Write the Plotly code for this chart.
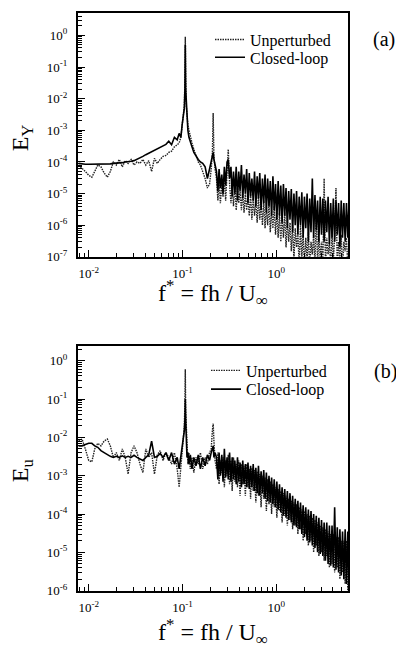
import plotly.graph_objects as go

# reduced frequency f* = fh / U_inf (shared by both spectra)
freq_lo = [
    0.0078, 0.0085, 0.0092, 0.0100, 0.0108, 0.0116, 0.0125, 0.0135, 0.0146, 0.0158,
    0.0170, 0.0183, 0.0197, 0.0212, 0.0228, 0.0245, 0.0263, 0.0283, 0.0304, 0.0327,
    0.0352, 0.0378, 0.0406, 0.0436, 0.0468, 0.0502, 0.0539, 0.0578, 0.0620, 0.0665,
    0.0713, 0.0764, 0.0819, 0.0877, 0.0920, 0.0960, 0.0990, 0.1020, 0.1045, 0.1060,
    0.1070, 0.1080, 0.1095, 0.1115, 0.1140, 0.1170, 0.1210, 0.1260, 0.1320, 0.1390,
    0.1470, 0.1550, 0.1640, 0.1740, 0.1840, 0.1940, 0.2020, 0.2080, 0.2120, 0.2160,
    0.2220,
]
freq_hi = [
    0.230, 0.238, 0.245, 0.253, 0.262, 0.270, 0.279, 0.288, 0.298, 0.307,
    0.317, 0.328, 0.338, 0.349, 0.361, 0.373, 0.385, 0.397, 0.410, 0.424,
    0.438, 0.452, 0.467, 0.482, 0.498, 0.514, 0.531, 0.548, 0.566, 0.585,
    0.604, 0.624, 0.644, 0.665, 0.687, 0.710, 0.733, 0.757, 0.782, 0.807,
    0.834, 0.861, 0.889, 0.918, 0.948, 0.979, 1.011, 1.044, 1.079, 1.114,
    1.150, 1.188, 1.227, 1.267, 1.309, 1.352, 1.396, 1.442, 1.489, 1.538,
    1.588, 1.640, 1.694, 1.749, 1.807, 1.866, 1.927, 1.990, 2.055, 2.123,
    2.192, 2.264, 2.338, 2.415, 2.494, 2.576, 2.660, 2.747, 2.837, 2.930,
    3.026, 3.125, 3.227, 3.333, 3.442, 3.555, 3.671, 3.791, 3.916, 4.044,
    4.176, 4.313, 4.454, 4.600, 4.751, 4.906, 5.067, 5.233, 5.404, 5.581,
    5.764, 5.950,
]

# (a) E_Y spectra
ey_unp_lo = [
    8e-5, 6.5e-5, 5e-5, 3.8e-5, 3.3e-5, 5e-5, 8e-5, 7e-5, 4.5e-5, 3.3e-5,
    5e-5, 1e-4, 8e-5, 1.2e-4, 7e-5, 1.1e-4, 9e-5, 1.2e-4, 8e-5, 1e-4,
    9e-5, 1.2e-4, 8e-5, 1.1e-4, 5e-5, 1.3e-4, 9e-5, 1.2e-4, 1.5e-4, 1.6e-4,
    2e-4, 2.2e-4, 3e-4, 3.5e-4, 4e-4, 6e-4, 1.2e-3, 2.5e-3, 6e-3, 4e-2,
    0.9, 5e-2, 6e-3, 3e-3, 1.5e-3, 1e-3, 6e-4, 4e-4, 2.5e-4, 1.5e-4,
    1e-4, 8e-5, 5e-5, 3e-5, 1.5e-5, 2e-5, 6e-5, 2e-4, 3.5e-3, 1.5e-4,
    6e-5,
]
ey_unp_hi = [
    3e-5, 6e-6, 2.5e-5, 5e-6, 2e-5, 8e-6, 3e-5, 6e-6, 5e-5, 2.5e-4,
    2e-5, 5e-6, 1.8e-5, 4e-6, 2e-5, 3e-6, 1.5e-5, 5e-6, 1.2e-5, 3e-6,
    1.2e-5, 2.5e-6, 1e-5, 3e-6, 8e-6, 2e-6, 1e-5, 1.5e-6, 7e-6, 2e-6,
    6e-6, 1.2e-6, 8e-6, 1.5e-6, 5e-6, 1e-6, 6e-6, 8e-7, 4e-6, 1e-6,
    5e-6, 6e-7, 3e-6, 8e-7, 4e-6, 5e-7, 3e-6, 4e-7, 2.5e-6, 3e-7,
    2e-6, 4e-7, 2.5e-6, 2e-7, 1.5e-6, 3e-7, 1.2e-6, 1.5e-7, 1e-6, 8e-8,
    8e-7, 2e-7, 6e-7, 5e-8, 1e-6, 1e-7, 5e-7, 5e-8, 4e-7, 8e-8,
    6e-7, 4e-8, 3e-7, 1.2e-7, 5e-7, 5e-8, 3e-6, 6e-8, 4e-7, 1e-7,
    3e-7, 4e-8, 3e-5, 5e-8, 4e-7, 1.2e-7, 3e-7, 5e-8, 6e-7, 8e-8,
    4e-7, 1.5e-5, 5e-8, 3e-7, 1e-7, 5e-7, 4e-8, 3e-7, 1.5e-7, 4e-7,
    5e-8, 3e-7,
]
ey_cl_lo = [
    9e-5, 8.5e-5, 8.5e-5, 8.5e-5, 8.5e-5, 8.5e-5, 8.5e-5, 8.5e-5, 8.5e-5, 8.5e-5,
    8.7e-5, 9e-5, 9e-5, 9.2e-5, 9.5e-5, 1e-4, 1e-4, 1.05e-4, 1.1e-4, 1.2e-4,
    1.3e-4, 1.5e-4, 1.7e-4, 1.9e-4, 2.1e-4, 2.3e-4, 2.6e-4, 3e-4, 3.3e-4, 3.6e-4,
    4.5e-4, 3.5e-4, 6e-4, 5e-4, 8e-4, 6e-4, 1.5e-3, 3e-3, 5e-3, 2e-2,
    0.5, 2e-2, 8e-3, 2e-3, 1e-3, 6e-4, 4e-4, 3e-4, 2e-4, 1.5e-4,
    1.2e-4, 1e-4, 9e-5, 7e-5, 3e-5, 6e-5, 1e-4, 1.3e-4, 2e-4, 1.2e-4,
    8e-5,
]
ey_cl_hi = [
    5e-5, 1.2e-5, 6e-5, 1.5e-5, 4e-5, 1e-5, 7e-5, 1.8e-5, 1e-4, 1.2e-4,
    3e-5, 7e-5, 8e-6, 5e-5, 1e-5, 7e-5, 6e-6, 5e-5, 1.2e-5, 8e-5,
    7e-6, 4e-5, 1e-5, 6e-5, 5e-6, 4.5e-5, 8e-6, 3e-5, 6e-6, 5e-5,
    4e-6, 3.5e-5, 7e-6, 4.5e-5, 3e-6, 3e-5, 5e-6, 4e-5, 2.5e-6, 3e-5,
    4e-6, 2.5e-5, 2e-6, 3.5e-5, 3e-6, 2e-5, 1.5e-6, 2.5e-5, 2e-6, 1.8e-5,
    1.2e-6, 2e-5, 2e-6, 1.5e-5, 8e-7, 1.2e-5, 1.5e-6, 1.4e-5, 6e-7, 1e-5,
    1e-6, 1.2e-5, 5e-7, 8e-6, 1e-6, 1.1e-5, 4e-7, 8e-6, 8e-7, 1e-5,
    3e-7, 7e-6, 6e-7, 3e-5, 4e-7, 9e-6, 7e-7, 6e-6, 3e-7, 8e-6,
    5e-7, 7e-6, 3e-7, 6e-6, 6e-7, 8e-6, 2.5e-7, 5e-6, 4e-7, 7e-6,
    3e-7, 6e-6, 5e-7, 5e-6, 2e-7, 6e-6, 4e-7, 5e-6, 3e-7, 5e-6,
    4e-7, 6e-6,
]

# (b) E_u spectra
eu_unp_lo = [
    8e-3, 9e-3, 5e-3, 2.5e-3, 2.3e-3, 5e-3, 7e-3, 6e-3, 8e-3, 9e-3,
    6e-3, 3e-3, 4e-3, 2.5e-3, 5e-3, 3e-3, 1.1e-3, 4e-3, 6e-3, 4e-3,
    2e-3, 1.2e-3, 5e-3, 3e-3, 4e-3, 1.1e-3, 3.5e-3, 4.5e-3, 2.5e-3, 4e-3,
    3e-3, 2e-3, 4e-3, 1.5e-3, 5e-4, 2e-3, 6e-3, 1.2e-2, 2e-2, 8e-2,
    0.6, 5e-2, 1.5e-2, 4e-3, 2e-3, 4e-3, 1.5e-3, 3e-3, 1.2e-3, 3e-3,
    2e-3, 4e-3, 1.5e-3, 3e-3, 2e-3, 4e-3, 5e-3, 1.5e-2, 2.3e-2, 8e-3,
    2.5e-3,
]
eu_unp_hi = [
    1.5e-3, 4e-3, 6e-4, 2.5e-3, 1.2e-3, 3e-3, 5e-4, 2.5e-3, 1e-3, 3.5e-3,
    6e-4, 2.5e-3, 4e-4, 3e-3, 7e-4, 2e-3, 5e-4, 2.5e-3, 3e-4, 2e-3,
    6e-4, 1.8e-3, 3e-4, 2e-3, 5e-4, 1.5e-3, 2.5e-4, 1.6e-3, 4e-4, 1.4e-3,
    2e-4, 1.3e-3, 3e-4, 1.1e-3, 1.5e-4, 1e-3, 2.5e-4, 9e-4, 1.2e-4, 8e-4,
    1.8e-4, 7e-4, 1e-4, 6e-4, 1.5e-4, 5e-4, 8e-5, 4.5e-4, 1.2e-4, 4e-4,
    6e-5, 3.5e-4, 9e-5, 3e-4, 5e-5, 2.5e-4, 7e-5, 2.2e-4, 4e-5, 2e-4,
    5e-5, 1.8e-4, 3e-5, 1.5e-4, 4e-5, 1.3e-4, 2e-5, 1.2e-4, 3e-5, 1e-4,
    1.5e-5, 9e-5, 2e-5, 8e-5, 1e-5, 7e-5, 1.5e-5, 6e-5, 8e-6, 5e-5,
    1e-5, 4.5e-5, 6e-6, 4e-5, 8e-6, 3.5e-5, 4e-6, 3e-5, 5e-6, 3e-5,
    3e-6, 2.5e-5, 4e-6, 2.5e-5, 2e-6, 2e-5, 3e-6, 2e-5, 1.5e-6, 2e-5,
    1e-6, 1.5e-5,
]
eu_cl_lo = [
    6e-3, 6e-3, 6.5e-3, 7e-3, 7e-3, 6e-3, 5.5e-3, 4.5e-3, 4e-3, 3.5e-3,
    3.2e-3, 3e-3, 3.2e-3, 3e-3, 3.3e-3, 3e-3, 3.2e-3, 3e-3, 3.4e-3, 3e-3,
    2.8e-3, 2.5e-3, 3e-3, 3.5e-3, 8e-3, 3e-3, 3.2e-3, 3.8e-3, 3e-3, 4e-3,
    2.5e-3, 4e-3, 2e-3, 3e-3, 1.5e-3, 3e-3, 5e-3, 8e-3, 1.5e-2, 3e-2,
    0.1, 3e-2, 1e-2, 3e-3, 4e-3, 2e-3, 3.5e-3, 1.5e-3, 3e-3, 1.8e-3,
    3.5e-3, 1.5e-3, 3e-3, 1.8e-3, 3.5e-3, 2.5e-3, 4e-3, 5e-3, 6e-3, 3e-3,
    4e-3,
]
eu_cl_hi = [
    3e-3, 8e-4, 4e-3, 1e-3, 3.5e-3, 7e-4, 5e-3, 9e-4, 3e-3, 8e-4,
    4e-3, 7e-4, 3e-3, 8e-4, 2.5e-3, 6e-4, 3e-3, 7e-4, 2.2e-3, 5e-4,
    2.5e-3, 6e-4, 2e-3, 5e-4, 2.2e-3, 4.5e-4, 1.8e-3, 5e-4, 2e-3, 4e-4,
    1.6e-3, 3.5e-4, 1.8e-3, 3e-4, 1.3e-3, 3.5e-4, 1.4e-3, 2.5e-4, 1.2e-3, 2.2e-4,
    1e-3, 2e-4, 9e-4, 1.8e-4, 8e-4, 1.5e-4, 7e-4, 1.3e-4, 6e-4, 1.1e-4,
    5e-4, 9e-5, 4.5e-4, 8e-5, 4e-4, 7e-5, 3.5e-4, 6e-5, 3e-4, 5e-5,
    2.5e-4, 4.5e-5, 2.2e-4, 4e-5, 2e-4, 3e-5, 1.7e-4, 2.5e-5, 1.5e-4, 2e-5,
    1.3e-4, 1.8e-5, 1.2e-4, 1.5e-5, 1e-4, 1.3e-5, 9e-5, 1e-5, 8e-5, 9e-6,
    7e-5, 8e-6, 6e-5, 6e-6, 6e-5, 5e-6, 5e-5, 4.5e-6, 5e-5, 4e-6,
    1.5e-4, 3.5e-6, 4.5e-5, 3e-6, 4e-5, 2.5e-6, 3.5e-5, 2e-6, 4e-5, 1.5e-6,
    3.5e-5, 1e-6,
]

x_tickvals = [0.01, 0.1, 1]
x_ticktext = ['10<sup>-2</sup>', '10<sup>-1</sup>', '10<sup>0</sup>']
ya_tickvals = [1e-7, 1e-6, 1e-5, 1e-4, 1e-3, 1e-2, 1e-1, 1]
ya_ticktext = ['10<sup>-7</sup>', '10<sup>-6</sup>', '10<sup>-5</sup>', '10<sup>-4</sup>',
               '10<sup>-3</sup>', '10<sup>-2</sup>', '10<sup>-1</sup>', '10<sup>0</sup>']
yb_tickvals = ya_tickvals[1:]
yb_ticktext = ya_ticktext[1:]

# the page body has an 8px margin, so the figure is drawn 8px in from the corner
PAGE = 8
W, H = 404 - PAGE, 652 - PAGE
SERIF = 'Liberation Serif'


def px(x):
    return (x - PAGE) / W


def py(y):
    return 1 - (y - PAGE) / H


freq = freq_lo + freq_hi
unp_line = dict(color='#222222', width=1.4, dash='1.5px,1px')
cl_line = dict(color='black', width=1.6)

fig = go.Figure()
fig.add_trace(go.Scatter(x=freq, y=ey_unp_lo + ey_unp_hi, mode='lines', line=unp_line,
                         name='Unperturbed', xaxis='x', yaxis='y', legend='legend'))
fig.add_trace(go.Scatter(x=freq, y=ey_cl_lo + ey_cl_hi, mode='lines', line=cl_line,
                         name='Closed-loop', xaxis='x', yaxis='y', legend='legend2'))
fig.add_trace(go.Scatter(x=freq, y=eu_unp_lo + eu_unp_hi, mode='lines', line=unp_line,
                         name='Unperturbed', xaxis='x2', yaxis='y2', legend='legend3'))
fig.add_trace(go.Scatter(x=freq, y=eu_cl_lo + eu_cl_hi, mode='lines', line=cl_line,
                         name='Closed-loop', xaxis='x2', yaxis='y2', legend='legend4'))

xdom = [px(78), px(348)]
xcommon = dict(type='log', range=[-2.114, 0.763], domain=xdom, showline=True, mirror=True,
               linecolor='black', linewidth=2, ticks='inside', ticklen=7, tickwidth=1.2,
               tickcolor='black', tickvals=x_tickvals, ticktext=x_ticktext,
               tickfont=dict(family=SERIF, size=13, color='black'), ticklabelstandoff=4,
               showgrid=False, zeroline=False,
               minor=dict(ticks='inside', ticklen=4, tickcolor='black', dtick='D1', showgrid=False))
ycommon = dict(type='log', showline=True, mirror=True, linecolor='black', linewidth=2,
               ticks='inside', ticklen=7, tickwidth=1.2, tickcolor='black',
               tickfont=dict(family=SERIF, size=13, color='black'), ticklabelstandoff=6,
               showgrid=False, zeroline=False,
               minor=dict(ticks='inside', ticklen=4, tickcolor='black', dtick='D1', showgrid=False))

legend_common = dict(xanchor='left', yanchor='middle', bgcolor='rgba(0,0,0,0)',
                     font=dict(family=SERIF, size=16, color='black'), itemwidth=30)

fig.update_layout(
    width=W, height=H,
    margin=dict(l=0, r=0, t=0, b=0),
    paper_bgcolor='white', plot_bgcolor='white',
    font=dict(family=SERIF, color='black'),
    xaxis=dict(xcommon, anchor='y'),
    yaxis=dict(ycommon, anchor='x', domain=[py(260), py(13)], range=[-7, 0.71],
               tickvals=ya_tickvals, ticktext=ya_ticktext),
    xaxis2=dict(xcommon, anchor='y2'),
    yaxis2=dict(ycommon, anchor='x2', domain=[py(598), py(350)], range=[-6, 0.39],
                tickvals=yb_tickvals, ticktext=yb_ticktext),
    legend=dict(legend_common, x=px(210), y=py(40)),
    legend2=dict(legend_common, x=px(210), y=py(58)),
    legend3=dict(legend_common, x=px(206), y=py(375)),
    legend4=dict(legend_common, x=px(206), y=py(394)),
    showlegend=True,
)

ann_font = dict(family=SERIF, size=24, color='black')
labels = [
    dict(text='E<sub>Y</sub>', x=22, y=140, textangle=-90, font=ann_font),
    dict(text='E<sub>u</sub>', x=22, y=476, textangle=-90, font=ann_font),
    dict(text='f<sup>*</sup> = fh / U<sub>∞</sub>', x=213, y=297, font=ann_font),
    dict(text='f<sup>*</sup> = fh / U<sub>∞</sub>', x=213, y=640, font=ann_font),
    dict(text='(a)', x=384, y=40, font=dict(family=SERIF, size=20, color='black')),
    dict(text='(b)', x=385, y=376, font=dict(family=SERIF, size=20, color='black')),
]
for a in labels:
    fig.add_annotation(text=a['text'], x=px(a['x']), y=py(a['y']), xref='paper', yref='paper',
                       showarrow=False, textangle=a.get('textangle', 0), font=a['font'],
                       xanchor='center', yanchor='middle', borderpad=0)

fig.write_html('out.html')
